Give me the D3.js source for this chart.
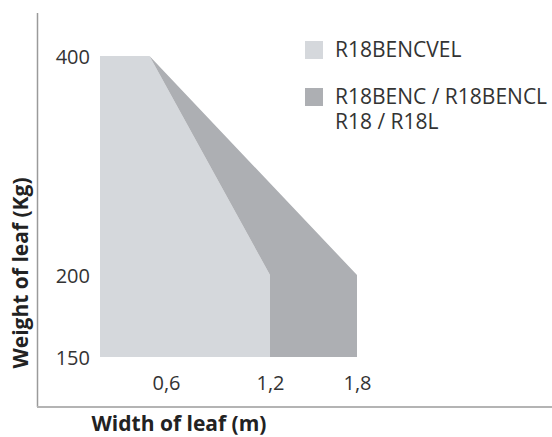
<!DOCTYPE html>
<html>
<head>
<meta charset="utf-8">
<script src="https://cdn.jsdelivr.net/npm/d3@7"></script>
<style>
	body { margin: 0; background: #fff; }
	svg { display: block; font-family: "Open Sans", sans-serif; }
</style>
</head>
<body>
<svg width="552" height="437"></svg>
<script>
// chart values
var xTicks = [0.6, 1.2, 1.8];
var yTicks = [150, 200, 400];
var lightWidth = [0, 0, 0.45, 1.2, 1.2];
var lightWeight = [150, 400, 400, 200, 150];
var darkWidth = [0.45, 1.8, 1.8, 1.2, 1.2];
var darkWeight = [400, 200, 150, 150, 200];
var legendNames = [["R18BENCVEL"], ["R18BENC / R18BENCL", "R18 / R18L"]];
var colors = ["#d5d8dc", "#adafb3"];

var svg = d3.select("svg");
// schematic axes, so piecewise scales
var x = d3.scaleLinear().domain([0, 0.6, 1.2, 1.8]).range([100, 166, 270, 357]);
var y = d3.scaleLinear().domain([150, 200, 400]).range([357, 275, 56]);
var comma = d3.formatLocale({decimal: ",", thousands: ".", grouping: [3], currency: ["", ""]}).format(".1f");

function shape(xs, ys) {
	var pts = xs.map(function(d, i) { return [x(d), y(ys[i])]; });
	return d3.line()(pts) + "Z";
}
svg.append("path").attr("d", shape(lightWidth, lightWeight)).attr("fill", colors[0]);
svg.append("path").attr("d", shape(darkWidth, darkWeight)).attr("fill", colors[1]);

// frame lines
svg.append("line").attr("x1", 37.5).attr("x2", 37.5).attr("y1", 13).attr("y2", 407)
	.attr("stroke", "#9a9a9a").attr("stroke-width", 1.5);
svg.append("line").attr("x1", 37).attr("x2", 552).attr("y1", 407).attr("y2", 407)
	.attr("stroke", "#b4b4b4").attr("stroke-width", 2);

// tick labels
var xAxis = svg.append("g").attr("transform", "translate(0,390)")
	.call(d3.axisBottom(x).tickValues(xTicks).tickSize(0).tickPadding(0).tickFormat(comma));
var yAxis = svg.append("g").attr("transform", "translate(90,0)")
	.call(d3.axisLeft(y).tickValues(yTicks).tickSize(0).tickPadding(0));
[xAxis, yAxis].forEach(function(a) {
	a.select(".domain").remove();
	a.selectAll("text").attr("fill", "#333").style("font-size", "20px").style("font-family", "'Open Sans'");
});
xAxis.selectAll("text").attr("dy", 0);
yAxis.selectAll("text").attr("dy", "0.38em");

// titles
svg.append("text").attr("x", 179).attr("y", 431).attr("text-anchor", "middle")
	.attr("font-weight", "bold").attr("font-size", 21).attr("fill", "#222").text("Width of leaf (m)");
svg.append("text").attr("transform", "translate(28,273) rotate(-90)").attr("text-anchor", "middle")
	.attr("font-weight", "bold").attr("font-size", 21).attr("fill", "#222").text("Weight of leaf (Kg)");

// legend
var lg = svg.selectAll("g.legend").data(legendNames).enter().append("g").attr("class", "legend")
	.attr("transform", function(d, i) { return "translate(305," + (41 + i * 47) + ")"; });
lg.append("rect").attr("width", 18).attr("height", 18).attr("fill", function(d, i) { return colors[i]; });
lg.each(function(d) {
	var t = d3.select(this).append("text").attr("fill", "#333").attr("font-size", 21);
	d.forEach(function(s, j) {
		t.append("tspan").attr("x", 30).attr("y", 16 + j * 25).text(s);
	});
});
</script>
</body>
</html>
